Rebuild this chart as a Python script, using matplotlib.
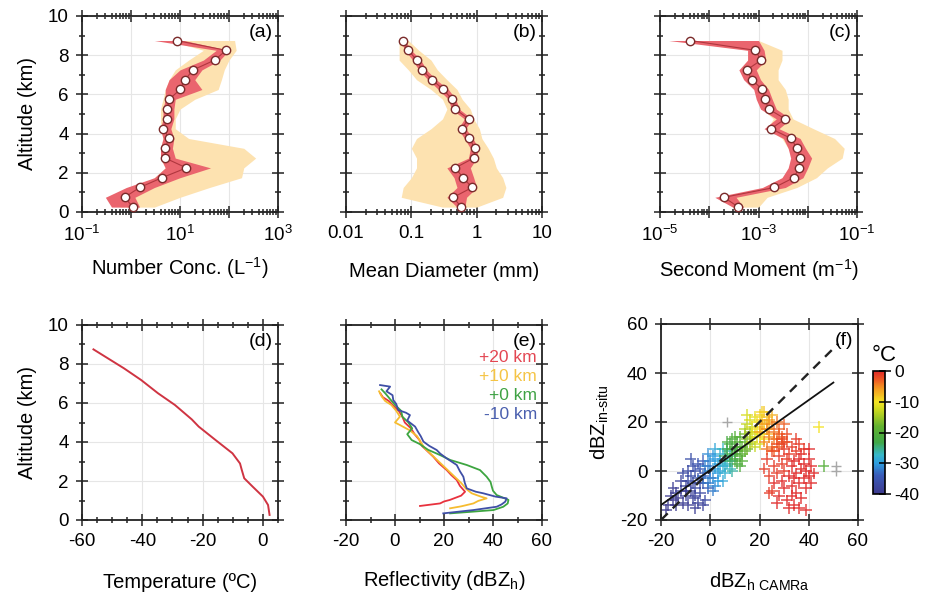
import numpy as np
import matplotlib
matplotlib.use("Agg")
import matplotlib.pyplot as plt
from matplotlib.ticker import MultipleLocator, LogLocator, NullFormatter, FixedLocator, FixedFormatter
from matplotlib.colors import LinearSegmentedColormap

plt.rcParams['font.family'] = ['Liberation Sans', 'DejaVu Sans']
plt.rcParams['mathtext.default'] = 'regular'
plt.rcParams['axes.unicode_minus'] = False

# ---------------- data ----------------
alt = [0.25, 0.75, 1.25, 1.75, 2.25, 2.75, 3.25, 3.75, 4.25, 4.75,
       5.25, 5.75, 6.25, 6.75, 7.25, 7.75, 8.25, 8.75]

# (a) number concentration (L^-1)
nc_med = [1.09, 0.74, 1.5, 4.3, 13.5, 5.0, 5.0, 5.9, 4.6, 5.5,
          5.5, 6.0, 10.1, 12.6, 18.6, 51, 87, 8.5]
nc_red_lo = [0.4, 0.3, 0.8, 3.0, 5.0, 4.0, 4.0, 4.5, 4.0, 4.5,
             4.5, 5.0, 5.0, 6.0, 10, 30, 55, 3.0]
nc_red_hi = [1.5, 1.2, 3.0, 10, 42, 8.0, 7.0, 7.5, 6.5, 7.5,
             7.5, 8.0, 28, 20, 28, 65, 100, 12]
nc_org_lo = [0.6, 0.7, 1.2, 3.0, 5.0, 4.0, 4.0, 4.5, 4.0, 4.0,
             4.0, 4.5, 5.0, 6.0, 8.0, 15, 30, 6.0]
nc_org_hi = [3.0, 10, 40, 180, 200, 350, 200, 15, 8.0, 8.0,
             10, 20, 60, 70, 80, 100, 140, 130]

# (b) mean diameter (mm)
md_med = [0.58, 0.44, 0.85, 0.62, 0.47, 0.90, 0.94, 0.77, 0.59, 0.75,
          0.47, 0.42, 0.31, 0.207, 0.147, 0.121, 0.09, 0.074]
md_red_lo = [0.50, 0.35, 0.50, 0.45, 0.35, 0.75, 0.80, 0.65, 0.52, 0.65,
             0.41, 0.37, 0.26, 0.18, 0.13, 0.105, 0.08, 0.068]
md_red_hi = [0.66, 0.70, 1.00, 0.90, 0.80, 1.00, 1.05, 0.88, 0.68, 0.85,
             0.54, 0.48, 0.37, 0.24, 0.17, 0.14, 0.10, 0.080]
md_org_lo = [0.30, 0.07, 0.075, 0.10, 0.12, 0.12, 0.10, 0.12, 0.20, 0.30,
             0.35, 0.30, 0.20, 0.12, 0.09, 0.065, 0.065, 0.065]
md_org_hi = [1.0, 2.5, 2.8, 2.5, 2.0, 1.8, 1.5, 1.2, 1.1, 0.9,
             0.8, 0.6, 0.5, 0.35, 0.25, 0.20, 0.13, 0.09]

# (c) second moment (m^-1)
sm_med = [3.9e-4, 2.0e-4, 2.1e-3, 5.2e-3, 6.7e-3, 7.0e-3, 6.0e-3, 4.6e-3, 1.8e-3, 3.5e-3,
          1.6e-3, 1.37e-3, 1.2e-3, 7.3e-4, 5.8e-4, 1.13e-3, 8.5e-4, 4.1e-5]
sm_red_lo = [3.0e-4, 1.3e-4, 1.2e-3, 3.0e-3, 4.0e-3, 4.5e-3, 4.0e-3, 3.2e-3, 1.3e-3, 2.3e-3,
             1.1e-3, 9.0e-4, 8.0e-4, 5.0e-4, 4.0e-4, 6.0e-4, 6.0e-4, 1.5e-5]
sm_red_hi = [5.0e-4, 3.5e-4, 3.5e-3, 8.0e-3, 1.0e-2, 1.2e-2, 9.0e-3, 7.0e-3, 2.6e-3, 4.5e-3,
             2.3e-3, 1.9e-3, 1.6e-3, 1.1e-3, 9.0e-4, 1.4e-3, 1.3e-3, 1.0e-3]
sm_org_lo = [3.0e-4, 1.5e-4, 1.5e-3, 3.0e-3, 5.0e-3, 5.0e-3, 4.0e-3, 3.0e-3, 1.5e-3, 2.0e-3,
             1.2e-3, 1.0e-3, 9.0e-4, 6.0e-4, 5.0e-4, 7.0e-4, 7.0e-4, 2.0e-5]
sm_org_hi = [1.0e-3, 1.5e-3, 6.0e-3, 1.5e-2, 2.5e-2, 5.0e-2, 5.5e-2, 3.5e-2, 1.3e-2, 5.0e-3,
             4.0e-3, 4.0e-3, 3.5e-3, 2.5e-3, 2.5e-3, 3.0e-3, 3.0e-3, 1.0e-3]

# (d) temperature profile
temp_alt = [8.75, 7.78, 7.18, 6.5, 5.9, 5.16, 4.79, 4.1, 3.42, 2.9, 2.56, 2.14, 1.71, 1.2, 0.77, 0.26]
temp_val = [-56.2, -46.1, -40.4, -34.8, -29.2, -23.6, -21.3, -15.7, -10.1, -7.6, -7.0, -6.2, -3.4, 0.0, 1.7, 2.2]

# (e) reflectivity profiles
blue_alt = [6.92, 6.84, 6.6, 6.4, 6.15, 5.95, 5.64, 5.5, 5.38, 5.1, 4.79, 4.5, 4.3, 4.02, 3.8, 3.59,
            3.4, 3.16, 2.82, 2.5, 2.22, 1.9, 1.62, 1.45, 1.37, 1.2, 1.11, 0.94, 0.8, 0.68, 0.51, 0.34]
blue_dbz = [-6.1, -2.0, -3.5, -1.0, -0.7, 0.5, 1.3, 4.5, 6.1, 5.0, 8.2, 9.5, 10.5, 11.6, 14.0, 17.0,
            18.5, 21.1, 25.2, 26.5, 27.9, 28.5, 29.3, 33.0, 36.0, 41.0, 45.6, 45.0, 43.5, 41.5, 32.0, 19.7]
green_alt = [6.7, 6.5, 6.2, 5.9, 5.6, 5.3, 5.0, 4.7, 4.4, 4.1, 3.9, 3.6, 3.33, 3.08, 2.82, 2.56,
             2.22, 1.95, 1.71, 1.5, 1.28, 1.15, 1.03, 0.85, 0.68, 0.51, 0.43, 0.34]
green_dbz = [-5.5, -4.0, -2.0, 0.0, 2.5, 3.0, 5.5, 7.0, 5.0, 6.8, 10.0, 13.5, 18.4, 22.5, 29.3, 34.7,
             37.4, 39.0, 39.5, 40.0, 41.5, 44.0, 46.3, 46.0, 44.2, 40.2, 32.0, 22.5]
red_alt = [6.5, 6.3, 6.1, 5.9, 5.6, 5.3, 5.0, 4.7, 4.4, 4.1, 3.8, 3.5, 3.25, 2.9, 2.56, 2.3,
           2.05, 1.75, 1.45, 1.25, 1.03, 0.95, 0.85, 0.72]
red_dbz = [-6.0, -5.0, -2.5, -1.0, 1.5, 3.0, 4.0, 6.5, 8.0, 10.0, 11.0, 13.5, 15.6, 18.0, 21.1, 23.0,
           25.2, 26.5, 28.6, 27.0, 22.4, 20.0, 18.4, 10.2]
orange_alt = [6.6, 6.35, 6.1, 5.9, 5.6, 5.3, 5.0, 4.87, 4.6, 4.3, 4.0, 3.7, 3.4, 3.1, 2.8, 2.5,
              2.2, 1.9, 1.6, 1.37, 1.2, 1.11, 0.98, 0.85, 0.7, 0.6]
orange_dbz = [-6.5, -5.5, -4.0, -1.5, 0.5, 2.0, 0.0, 2.0, 6.0, 9.0, 10.5, 12.0, 14.5, 17.0, 19.5, 22.0,
              24.5, 27.0, 29.0, 31.3, 35.0, 37.4, 34.0, 32.0, 27.0, 22.5]
offset_labels = ['+20 km', '+10 km', '+0 km', '-10 km']

# (f) scatter: (dBZ CAMRa, dBZ in-situ, temperature)
pts_purple = [(-17, -14, -40), (-15, -12, -40), (-14, -9, -39), (-13, -11, -40), (-12, -8, -39),
              (-11, -13, -39), (-10, -10, -38), (-10, -6, -38), (-9, -4, -37), (-8, -8, -38),
              (-8, -2, -36), (-7, -11, -38), (-7, -5, -37), (-6, 0, -36), (-6, -7, -37),
              (-5, -3, -36), (-5, 3, -35), (-4, -9, -37), (-4, 1, -35), (-3, -5, -35),
              (-3, 4, -34), (-2, -1, -34), (-2, -12, -37), (-9, -14, -39), (-6, -15, -39),
              (-12, -4, -38), (-14, -14, -40), (-16, -10, -40), (-11, -1, -37), (-8, 5, -36),
              (-5, -13, -38), (-3, -14, -38), (-1, -7, -35), (-7, 2, -36), (-10, -8, -39),
              (-18, -16, -40), (-15, -7, -39), (-9, 0, -37), (-6, -10, -38), (-4, -5, -36)]
pts_cyan = [(-3, -2, -33), (-2, 2, -32), (-1, -5, -32), (0, 0, -31), (0, 4, -31), (1, -3, -31),
            (1, 6, -30), (2, 1, -30), (2, -6, -31), (3, 3, -29), (3, -1, -30), (4, 7, -28),
            (4, 0, -29), (5, 2, -28), (5, -4, -29), (6, 5, -27), (6, -1, -28), (7, 3, -27),
            (7, 8, -26), (8, 1, -27), (8, 6, -26), (9, 4, -25), (-1, 7, -31), (2, 9, -29),
            (1, -8, -32), (3, -4, -30), (5, 9, -27), (9, 0, -26), (10, 7, -25), (0, -3, -32),
            (-1, 2, -32), (4, 4, -29), (6, 2, -28), (2, 5, -30)]
pts_green = [(6, 6, -24), (7, 9, -23), (8, 4, -24), (8, 11, -22), (9, 7, -22), (10, 10, -21),
             (10, 5, -22), (11, 12, -20), (11, 8, -21), (12, 6, -20), (12, 14, -19), (13, 10, -19),
             (13, 7, -19), (14, 12, -18), (14, 15, -17), (15, 9, -17), (15, 13, -16), (16, 11, -16),
             (9, 13, -21), (11, 3, -22), (13, 4, -20), (16, 16, -15), (10, 14, -20), (7, 12, -22),
             (12, 2, -21), (9, 9, -22), (12, 10, -20), (14, 8, -18)]
pts_yellow = [(14, 17, -14), (15, 19, -13), (16, 14, -14), (16, 21, -12), (17, 18, -12), (17, 12, -13),
              (18, 22, -11), (18, 16, -11), (19, 20, -10), (19, 14, -11), (20, 23, -9), (20, 18, -9),
              (21, 21, -9), (21, 15, -10), (22, 24, -8), (22, 19, -8), (23, 22, -8), (23, 17, -8),
              (24, 20, -7), (25, 23, -7), (18, 10, -13), (20, 11, -12), (22, 13, -10), (24, 15, -7),
              (15, 23, -12), (17, 15, -12), (19, 17, -10), (21, 24, -9)]
pts_orange = [(20, 16, -6), (21, 19, -6), (22, 12, -5), (23, 17, -5), (24, 14, -5), (25, 19, -5),
              (25, 10, -4), (26, 16, -4), (27, 13, -4), (27, 20, -4), (28, 17, -3), (28, 10, -3),
              (29, 14, -3), (30, 19, -3), (26, 8, -3), (24, 21, -6), (29, 11, -2), (23, 9, -4),
              (31, 15, -2), (30, 12, -2), (26, 13, -4), (28, 15, -3)]
pts_red = [(23, 5, -1), (24, -2, -1), (25, 8, -2), (25, -8, -1), (26, 2, -1), (26, -5, 0),
           (27, 11, -2), (27, -1, -1), (28, 6, -1), (28, -10, 0), (29, 3, -1), (29, -4, 0),
           (30, 9, -1), (30, -7, 0), (30, 0, -1), (31, 12, -2), (31, 5, -1), (31, -12, 0),
           (32, -2, 0), (32, 7, -1), (33, 2, 0), (33, -6, 0), (33, 10, -1), (34, -14, 0),
           (34, 4, 0), (34, -3, 0), (35, 8, -1), (35, -1, 0), (35, -9, 0), (36, 5, 0),
           (36, -5, 0), (36, 11, -1), (37, 1, 0), (37, -11, 0), (37, 7, 0), (38, -3, 0),
           (38, 3, 0), (38, 9, -1), (39, -7, 0), (39, 0, 0), (40, 5, 0), (40, -2, 0),
           (41, -5, 0), (41, 2, 0), (39, -16, 0), (32, -15, 0), (27, -13, 0), (24, -9, -1),
           (22, 1, -1), (29, 13, -2), (35, 13, -1), (40, 9, 0), (33, -10, 0), (36, -15, 0),
           (42, -1, 0)]
pts_extra = [(46, 2, -20), (44, 18, -10)]
gray_x = [7, 51, 51]
gray_y = [20, 2, 0]
fit_x = [-20, 50]
fit_slope, fit_icpt = 0.714, 0.4
one2one = [-20, 52]

# ---------------- figure ----------------
fig = plt.figure(figsize=(9.26, 5.97), dpi=100)

W, H = 926.0, 597.0
def axbox(l, t, r, b):
    return [l / W, (H - b) / H, (r - l) / W, (b - t) / H]

ax_a = fig.add_axes(axbox(82, 16, 278, 212))
ax_b = fig.add_axes(axbox(346, 16, 542, 212))
ax_c = fig.add_axes(axbox(660, 16, 857, 212))
ax_d = fig.add_axes(axbox(82, 325, 278, 520))
ax_e = fig.add_axes(axbox(346, 325, 542, 520))
ax_f = fig.add_axes(axbox(661, 324, 858, 520))
cax = fig.add_axes(axbox(873, 371, 885, 494))

RED_BAND = '#ea656e'
ORG_BAND = '#fde2b0'
LBL = 14.5
TCK = 13.5

def style(ax):
    ax.tick_params(which='both', direction='inout', top=True, right=True,
                   labelsize=TCK, width=1.1, pad=5, color='#222222')
    ax.tick_params(which='major', length=9)
    ax.tick_params(which='minor', length=5)
    for s in ax.spines.values():
        s.set_linewidth(1.3)
        s.set_color('#222222')
    ax.grid(True, which='major', color='#e6e6e6', lw=0.8)
    ax.set_axisbelow(True)

def alt_axis(ax, labels):
    ax.set_ylim(0, 10)
    ax.yaxis.set_major_locator(MultipleLocator(2))
    ax.yaxis.set_minor_locator(MultipleLocator(1))
    if not labels:
        ax.tick_params(axis='y', labelleft=False)

def log_axis(ax, lo, hi, labels):
    ax.set_xscale('log')
    ax.set_xlim(lo, hi)
    decs = [10.0 ** k for k in range(int(np.log10(lo)), int(np.log10(hi)) + 1)]
    ax.xaxis.set_major_locator(FixedLocator(decs))
    ax.xaxis.set_major_formatter(FixedFormatter(labels))
    ax.xaxis.set_minor_locator(LogLocator(base=10, subs=np.arange(2, 10), numticks=20))
    ax.xaxis.set_minor_formatter(NullFormatter())

def profile(ax, med, rlo, rhi, olo, ohi):
    ax.fill_betweenx(alt, olo, ohi, color=ORG_BAND, lw=0, zorder=1)
    ax.fill_betweenx(alt, rlo, rhi, color=RED_BAND, lw=0, zorder=2)
    ax.plot(med, alt, color='#b0363e', lw=0.8, zorder=3)
    ax.plot(med, alt, 'o', ms=6, mfc='white', mec='#7a2a2a', mew=1.0, zorder=4)

def xlabel(ax, text, ypix, bottom, height):
    ax.set_xlabel(text, fontsize=LBL, va='center')
    ax.xaxis.set_label_coords(0.5, (bottom - ypix) / height)

def panel_label(ax, s):
    ax.text(0.975, 0.915, s, transform=ax.transAxes, ha='right', va='center', fontsize=14)

for ax in (ax_a, ax_b, ax_c, ax_d, ax_e, ax_f):
    style(ax)

# (a)
profile(ax_a, nc_med, nc_red_lo, nc_red_hi, nc_org_lo, nc_org_hi)
log_axis(ax_a, 0.1, 1000, ['$10^{-1}$', '', '$10^{1}$', '', '$10^{3}$'])
alt_axis(ax_a, True)
ax_a.set_ylabel('Altitude (km)', fontsize=LBL, ha='center', va='center')
ax_a.yaxis.set_label_coords(-0.28, 0.5)
xlabel(ax_a, 'Number Conc. (L$^{-1}$)', 268, 212, 196)
panel_label(ax_a, '(a)')

# (b)
profile(ax_b, md_med, md_red_lo, md_red_hi, md_org_lo, md_org_hi)
log_axis(ax_b, 0.01, 10, ['0.01', '0.1', '1', '10'])
alt_axis(ax_b, False)
xlabel(ax_b, 'Mean Diameter (mm)', 272, 212, 196)
panel_label(ax_b, '(b)')

# (c)
profile(ax_c, sm_med, sm_red_lo, sm_red_hi, sm_org_lo, sm_org_hi)
log_axis(ax_c, 1e-5, 1e-1, ['$10^{-5}$', '', '$10^{-3}$', '', '$10^{-1}$'])
alt_axis(ax_c, False)
xlabel(ax_c, 'Second Moment (m$^{-1}$)', 270, 212, 197)
panel_label(ax_c, '(c)')

# (d)
ax_d.plot(temp_val, temp_alt, color='#cf3442', lw=1.4)
ax_d.set_xlim(-60, 5)
ax_d.xaxis.set_major_locator(FixedLocator([-60, -40, -20, 0]))
ax_d.xaxis.set_minor_locator(MultipleLocator(5))
alt_axis(ax_d, True)
ax_d.set_ylabel('Altitude (km)', fontsize=LBL, ha='center', va='center')
ax_d.yaxis.set_label_coords(-0.28, 0.5)
xlabel(ax_d, 'Temperature (ºC)', 582, 520, 195)
panel_label(ax_d, '(d)')

# (e)
e_series = [(red_dbz, red_alt, '#e8323e'), (orange_dbz, orange_alt, '#f6bc30'),
            (green_dbz, green_alt, '#3da540'), (blue_dbz, blue_alt, '#3f4fa6')]
for xs, ys, c in e_series:
    ax_e.plot(xs, ys, color=c, lw=1.3)
ax_e.set_xlim(-20, 60)
ax_e.xaxis.set_major_locator(MultipleLocator(20))
ax_e.xaxis.set_minor_locator(MultipleLocator(10))
alt_axis(ax_e, False)
xlabel(ax_e, 'Reflectivity (dBZ$_{h}$)', 580, 520, 195)
panel_label(ax_e, '(e)')
txt_cols = ['#e34652', '#f5c445', '#3fa244', '#4a5fae']
for i, (lab, c) in enumerate(zip(offset_labels, txt_cols)):
    ax_e.text(0.975, 0.835 - i * 0.098, lab, transform=ax_e.transAxes, ha='right',
              va='center', fontsize=12.5, color=c)

# (f)
cmap = LinearSegmentedColormap.from_list('temp', [
    (0.0, '#3e3a8e'), (0.15, '#3a5bb8'), (0.25, '#2e9ee0'), (0.32, '#38b8c8'),
    (0.42, '#40a848'), (0.55, '#62b230'), (0.68, '#c8d820'), (0.75, '#f4e424'),
    (0.85, '#f4a020'), (0.93, '#ee5a22'), (1.0, '#e02828')])
all_pts = pts_purple + pts_cyan + pts_green + pts_yellow + pts_orange + pts_red + pts_extra
fx = [p[0] for p in all_pts]
fy = [p[1] for p in all_pts]
ft = [p[2] for p in all_pts]
ax_f.scatter(gray_x, gray_y, marker='+', s=55, c='#a8a8a8', linewidths=1.0, zorder=2)
sc = ax_f.scatter(fx, fy, c=ft, cmap=cmap, vmin=-40, vmax=0, marker='+', s=70,
                  linewidths=1.1, alpha=0.85, zorder=2)
ax_f.plot(one2one, one2one, color='#222222', lw=1.7, ls=(0, (4, 3)), zorder=3)
ax_f.plot(fit_x, [fit_slope * v + fit_icpt for v in fit_x], color='#111111', lw=1.3, zorder=3)
ax_f.set_xlim(-20, 60)
ax_f.set_ylim(-20, 60)
ax_f.xaxis.set_major_locator(MultipleLocator(20))
ax_f.yaxis.set_major_locator(MultipleLocator(20))
ax_f.set_ylabel('dBZ$_{in\u2010situ}$', fontsize=LBL, ha='center', va='center')
ax_f.yaxis.set_label_coords(-0.31, 0.5)
xlabel(ax_f, 'dBZ$_{h\\ CAMRa}$', 582, 520, 196)
panel_label(ax_f, '(f)')

cb = fig.colorbar(sc, cax=cax, ticks=[0, -10, -20, -30, -40])
cb.solids.set_alpha(1)
cax.tick_params(direction='inout', length=9, width=1.1, labelsize=12.5, pad=2)
cb.outline.set_linewidth(1.2)
cax.text(0.9, 1.13, '°C', transform=cax.transAxes, ha='center', va='center', fontsize=16)

fig.savefig('out.png', dpi=100)
